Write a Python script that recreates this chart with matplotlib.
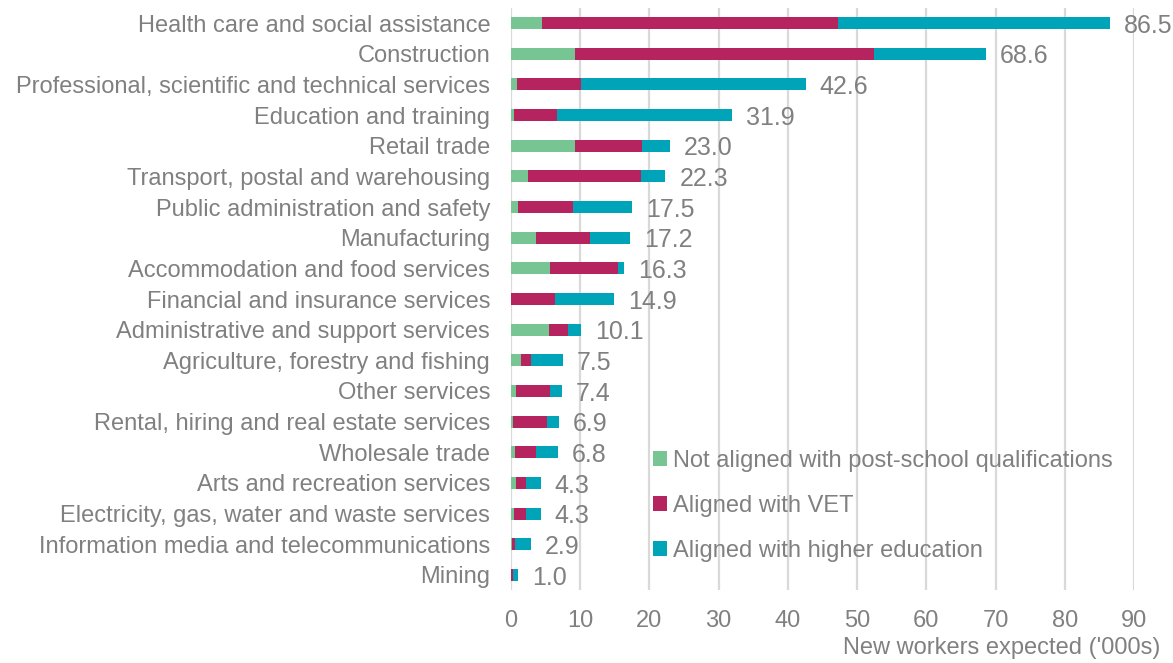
import numpy as np
import matplotlib
matplotlib.use("Agg")
import matplotlib.pyplot as plt

plt.rcParams['font.family'] = ['Liberation Sans', 'DejaVu Sans']

# data ('000s)
industries = [
    "Health care and social assistance", "Construction",
    "Professional, scientific and technical services", "Education and training",
    "Retail trade", "Transport, postal and warehousing",
    "Public administration and safety", "Manufacturing",
    "Accommodation and food services", "Financial and insurance services",
    "Administrative and support services", "Agriculture, forestry and fishing",
    "Other services", "Rental, hiring and real estate services",
    "Wholesale trade", "Arts and recreation services",
    "Electricity, gas, water and waste services",
    "Information media and telecommunications", "Mining",
]
not_aligned = [4.5, 9.3, 0.8, 0.5, 9.3, 2.5, 1.0, 3.6, 5.7, 0.0, 5.5, 1.5, 0.7, 0.3, 0.6, 0.7, 0.5, 0.1, 0.0]
vet = [42.7, 43.1, 9.3, 6.1, 9.6, 16.3, 8.0, 7.8, 9.7, 6.4, 2.7, 1.4, 4.9, 4.9, 3.0, 1.4, 1.7, 0.5, 0.35]
totals = [86.5, 68.6, 42.6, 31.9, 23.0, 22.3, 17.5, 17.2, 16.3, 14.9, 10.1, 7.5, 7.4, 6.9, 6.8, 4.3, 4.3, 2.9, 1.0]
higher_ed = [round(t - a - b, 2) for t, a, b in zip(totals, not_aligned, vet)]

series_names = ["Not aligned with post-school qualifications", "Aligned with VET",
                "Aligned with higher education"]
colors = ["#77C593", "#B6245F", "#00A4B9"]
text_grey = "#808080"

fig = plt.figure(figsize=(11.73, 6.63), dpi=100)
ax = fig.add_axes([511/1173, 1 - 590.3/663, (1134 - 511)/1173, (590.3 - 7.7)/663])

y = np.arange(len(industries))
left = np.zeros(len(industries))
for vals, name, c in zip([not_aligned, vet, higher_ed], series_names, colors):
    ax.barh(y, vals, left=left, height=0.4, color=c, label=name, linewidth=0, zorder=3)
    left += np.array(vals)

# total labels
for yi, t in zip(y, totals):
    ax.annotate(f"{t:.1f}", (t, yi), xytext=(10, -2), textcoords="offset points",
                va="center", ha="left", fontsize=18, color=text_grey, zorder=4)

ax.set_xlim(0, 90)
ax.set_ylim(len(industries) - 0.5, -0.5)
ax.set_xticks(range(0, 91, 10))
ax.set_yticks(y)
ax.set_yticklabels(industries)
ax.tick_params(axis="y", length=0, pad=15, labelsize=17, labelcolor=text_grey)
ax.tick_params(axis="x", length=0, pad=14, labelsize=17, labelcolor=text_grey)
ax.xaxis.grid(True, color="#D9D9D9", linewidth=1.6, zorder=0)
for s in ax.spines.values():
    s.set_visible(False)

fig.text(1160/1173, 1 - 648/663, "New workers expected ('000s)", ha="right", va="center",
         fontsize=17, color=text_grey)

leg = ax.legend(loc="upper left", bbox_to_anchor=(653/1173, 1 - 450/663),
                bbox_transform=fig.transFigure, frameon=False, fontsize=17,
                handlelength=0.6, handleheight=0.6, handletextpad=0.25,
                labelspacing=0.98, borderpad=0, borderaxespad=0)
for txt in leg.get_texts():
    txt.set_color(text_grey)

fig.savefig("out.png", dpi=100)
